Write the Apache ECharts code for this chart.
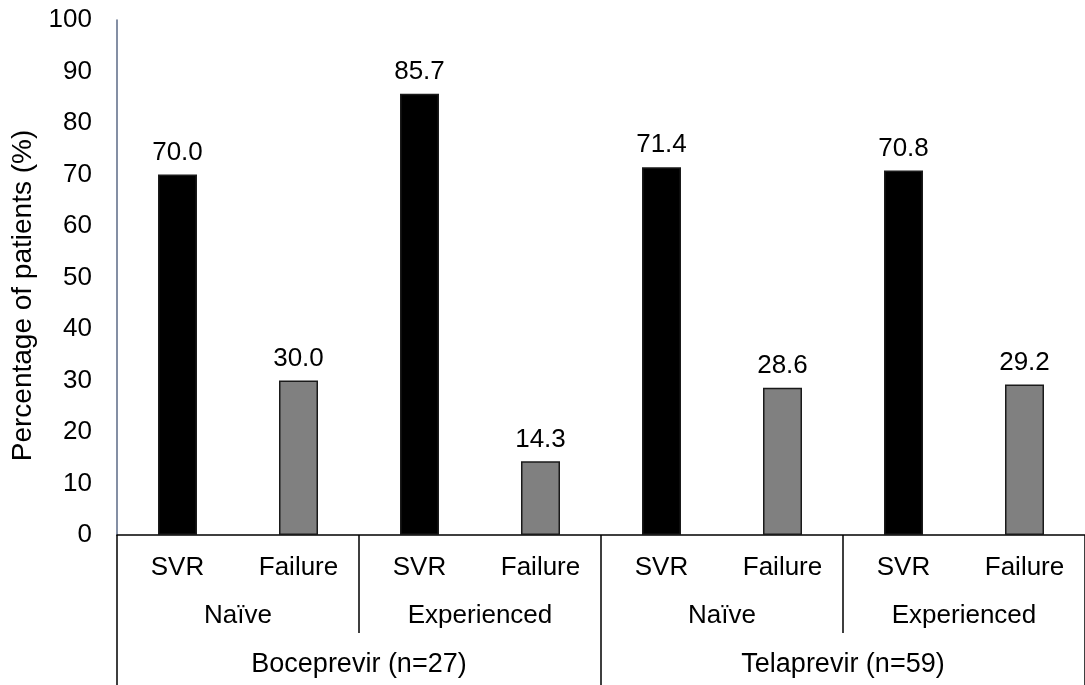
<!DOCTYPE html>
<html>
<head>
<meta charset="utf-8">
<script src="https://cdn.jsdelivr.net/npm/echarts@6/dist/echarts.min.js"></script>
<style>html,body{margin:0;padding:0;background:#fff}#c{width:1085px;height:685px}</style>
</head>
<body>
<div id="c"></div>
<script>
const outcomes = ['SVR', 'Failure', 'SVR', 'Failure', 'SVR', 'Failure', 'SVR', 'Failure'];
const experience = ['Naïve', 'Experienced', 'Naïve', 'Experienced'];
const drugs = ['Boceprevir (n=27)', 'Telaprevir (n=59)'];
const values = [70.0, 30.0, 85.7, 14.3, 71.4, 28.6, 70.8, 29.2];
const yTicks = [0, 100, 10];

const FONT = 'Liberation Sans, Arial, sans-serif';
const FS = 26;
const gridBase = { left: 117, top: 20, width: 972, bottom: 150, containLabel: false };
const chart = echarts.init(document.getElementById('c'), null, { renderer: 'canvas' });

const hiddenY = (gi) => ({ type: 'value', gridIndex: gi, min: yTicks[0], max: yTicks[1], show: false });

chart.setOption({
  backgroundColor: '#ffffff',
  animation: false,
  grid: [gridBase, gridBase, gridBase],
  xAxis: [
    {
      type: 'category', gridIndex: 0, data: outcomes,
      axisLine: { lineStyle: { color: '#000', width: 1.5 } },
      axisTick: { show: false },
      axisLabel: { interval: 0, margin: 20, color: '#000', fontSize: FS, fontFamily: FONT }
    },
    {
      type: 'category', gridIndex: 1, data: experience,
      axisLine: { show: false },
      axisTick: { show: true, interval: 0, length: 98, lineStyle: { color: '#000', width: 1.5 } },
      axisLabel: { interval: 0, margin: 68, color: '#000', fontSize: FS, fontFamily: FONT }
    },
    {
      type: 'category', gridIndex: 2, data: drugs,
      axisLine: { show: false },
      axisTick: { show: true, interval: 0, length: 150, lineStyle: { color: '#000', width: 1.5 } },
      axisLabel: { interval: 0, margin: 116, color: '#000', fontSize: 27, fontFamily: FONT }
    }
  ],
  yAxis: [
    {
      type: 'value', gridIndex: 0, min: yTicks[0], max: yTicks[1], interval: yTicks[2],
      name: 'Percentage of patients (%)', nameLocation: 'middle', nameGap: 72,
      nameTextStyle: { color: '#000', fontSize: 28, fontFamily: FONT, padding: [0, 36, 0, 0] },
      axisLine: { show: true, lineStyle: { color: '#5b6a86', width: 1.5 } },
      axisTick: { show: false },
      splitLine: { show: false },
      axisLabel: { margin: 25, color: '#000', fontSize: FS, fontFamily: FONT }
    },
    hiddenY(1), hiddenY(2)
  ],
  series: [{
    type: 'bar',
    xAxisIndex: 0, yAxisIndex: 0,
    barWidth: 39,
    data: values.map((v, i) => ({
      value: v,
      itemStyle: { color: outcomes[i] === 'SVR' ? '#000000' : '#808080', borderColor: '#1a1a1a', borderWidth: 1.5 }
    })),
    label: {
      show: true, position: 'top', distance: 9,
      color: '#000', fontSize: FS, fontFamily: FONT,
      formatter: (p) => p.value.toFixed(1)
    }
  }]
});
</script>
</body>
</html>
